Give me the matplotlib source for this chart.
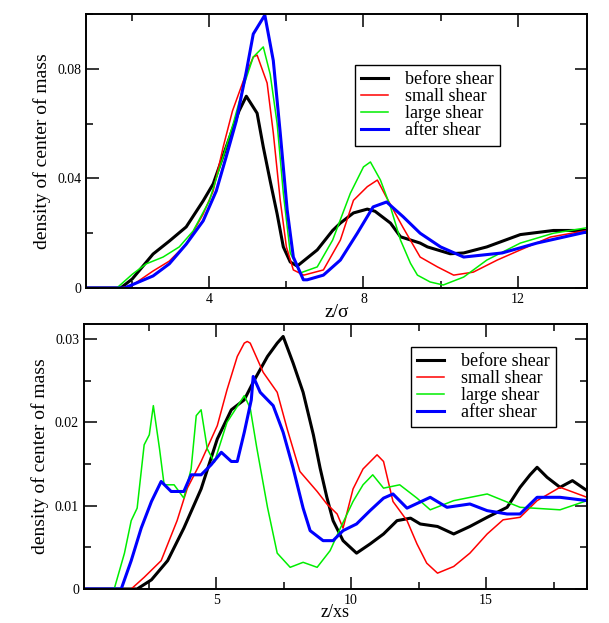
import matplotlib
matplotlib.use("Agg")
import matplotlib.pyplot as plt
from matplotlib.ticker import MultipleLocator

plt.rcParams['font.family'] = ['Liberation Serif', 'DejaVu Serif']

labels = ["before shear", "small shear", "large shear", "after shear"]
colours = ["black", "red", "#00ee00", "blue"]
widths = [2.2, 1.1, 1.1, 2.2]

# ---- top panel: z / sigma ----
z_top_before = [0.8, 1.7, 2.0, 2.54, 2.96, 3.4, 3.84, 4.1, 4.44, 4.77, 4.96, 5.24, 5.4, 5.58, 5.76,
                5.92, 6.1, 6.28, 6.8, 7.2, 7.4, 7.74, 8.1, 8.3, 8.7, 8.96, 9.47, 9.66, 10.25, 10.6,
                11.2, 12.07, 12.93, 13.8]
d_top_before = [0, 0, 0.0033, 0.0124, 0.0171, 0.0223, 0.0318, 0.038, 0.0515, 0.0646, 0.070, 0.0638,
                0.0515, 0.039, 0.027, 0.015, 0.0095, 0.008, 0.0139, 0.021, 0.0237, 0.0274, 0.0288,
                0.028, 0.0237, 0.0187, 0.0164, 0.015, 0.0125, 0.0128, 0.015, 0.0195, 0.021, 0.021]

z_top_small = [0.8, 1.7, 2.0, 2.54, 2.96, 3.4, 3.84, 4.1, 4.36, 4.6, 4.88, 5.14, 5.24, 5.5, 5.66, 5.84,
               6.0, 6.18, 6.45, 6.96, 7.4, 7.74, 8.1, 8.36, 8.6, 9.03, 9.47, 9.92, 10.34, 10.85,
               11.47, 12.07, 12.85, 13.8]
d_top_small = [0, 0, 0.001, 0.0062, 0.0098, 0.016, 0.027, 0.0354, 0.0515, 0.0646, 0.0755, 0.0843,
               0.085, 0.0748, 0.0566, 0.032, 0.015, 0.0066, 0.0047, 0.0066, 0.0175, 0.032, 0.037,
               0.0394, 0.033, 0.022, 0.0113, 0.0077, 0.0047, 0.0058, 0.0102, 0.0139, 0.0186, 0.021]

z_top_large = [0.8, 1.6, 2.0, 2.36, 2.8, 3.22, 3.58, 4.0, 4.36, 4.62, 4.88, 5.14, 5.4, 5.58, 5.76,
               5.92, 6.1, 6.36, 6.8, 7.2, 7.66, 8.0, 8.18, 8.44, 8.7, 8.96, 9.22, 9.4, 9.73, 10.07,
               10.6, 11.2, 12.07, 12.93, 13.8]
d_top_large = [0, 0, 0.005, 0.0088, 0.0113, 0.015, 0.0208, 0.0318, 0.048, 0.060, 0.0733, 0.0843,
               0.088, 0.078, 0.060, 0.0346, 0.0128, 0.0055, 0.0077, 0.0175, 0.0346, 0.0442, 0.046,
               0.0394, 0.0296, 0.0175, 0.009, 0.0047, 0.0022, 0.0011, 0.004, 0.0102, 0.0164, 0.020,
               0.022]

z_top_after = [0.8, 1.8, 2.54, 2.96, 3.4, 3.84, 4.18, 4.44, 4.7, 4.96, 5.14, 5.44, 5.66, 5.84, 6.02,
               6.18, 6.44, 6.54, 6.96, 7.4, 7.84, 8.25, 8.6, 9.03, 9.47, 10.0, 10.6, 11.6, 12.5,
               13.8]
d_top_after = [0, 0, 0.0044, 0.0088, 0.016, 0.0245, 0.0354, 0.048, 0.061, 0.079, 0.0927, 0.0996,
               0.083, 0.0566, 0.0285, 0.0113, 0.003, 0.003, 0.0047, 0.0102, 0.020, 0.0296, 0.0314,
               0.026, 0.020, 0.015, 0.0113, 0.0128, 0.0164, 0.0205]

# ---- bottom panel: z / xs ----
z_bot_before = [0.1, 2.07, 2.6, 3.2, 3.8, 4.44, 5.04, 5.56, 6.04, 6.4, 6.9, 7.26, 7.48, 7.85, 8.22,
                8.6, 8.85, 9.1, 9.33, 9.7, 10.2, 10.7, 11.2, 11.7, 12.2, 12.56, 13.2, 13.8, 14.4,
                15.04, 15.78, 16.26, 16.63, 16.89, 17.26, 17.74, 18.2, 18.74]
d_bot_before = [0, 0, 0.0011, 0.0034, 0.0073, 0.012, 0.018, 0.0215, 0.0227, 0.025, 0.0279, 0.0295,
                0.0303, 0.0271, 0.0236, 0.0185, 0.0145, 0.011, 0.0082, 0.0058, 0.0043, 0.0054,
                0.0066, 0.0082, 0.0085, 0.0078, 0.0075, 0.0066, 0.0075, 0.0086, 0.0098, 0.0122,
                0.0137, 0.0146, 0.0134, 0.0122, 0.013, 0.0118]

z_bot_small = [0.1, 1.85, 2.33, 2.96, 3.55, 3.93, 4.44, 5.04, 5.4, 5.78, 6.04, 6.15, 6.26, 6.74, 7.26,
               7.63, 8.1, 8.74, 9.1, 9.48, 9.7, 10.07, 10.44, 10.96, 11.2, 11.55, 12.07, 12.44,
               12.8, 13.2, 13.8, 14.4, 15.04, 15.63, 16.26, 16.89, 17.74, 18.74]
d_bot_small = [0, 0, 0.0014, 0.0034, 0.0082, 0.0121, 0.0153, 0.0196, 0.0239, 0.0279, 0.0295, 0.0297,
               0.0295, 0.026, 0.0236, 0.0192, 0.0141, 0.0117, 0.0102, 0.009, 0.0073, 0.012, 0.0144,
               0.0161, 0.0153, 0.0105, 0.0082, 0.0054, 0.0031, 0.0019, 0.0027, 0.0043, 0.0066,
               0.0083, 0.0086, 0.0106, 0.0122, 0.011]

z_bot_large = [0.1, 1.22, 1.6, 1.85, 2.07, 2.33, 2.52, 2.67, 2.9, 3.07, 3.44, 3.8, 4.07, 4.26, 4.44,
               4.67, 4.93, 5.4, 6.04, 6.26, 6.5, 6.9, 7.26, 7.74, 8.22, 8.74, 9.22, 9.6, 10.07,
               10.44, 10.8, 11.2, 11.8, 12.44, 12.93, 13.8, 15.04, 16.26, 17.74, 18.74]
d_bot_large = [0, 0, 0.0043, 0.0082, 0.0097, 0.0173, 0.0185, 0.022, 0.0168, 0.0125, 0.0125, 0.0109,
               0.0144, 0.0208, 0.0215, 0.0168, 0.0152, 0.020, 0.0232, 0.0217, 0.017, 0.0098,
               0.0043, 0.0026, 0.0032, 0.0026, 0.0046, 0.0073, 0.0105, 0.0125, 0.0137, 0.0121,
               0.0125, 0.0109, 0.0095, 0.0106, 0.0114, 0.0098, 0.0095, 0.0106]

z_bot_after = [0.1, 1.48, 1.85, 2.22, 2.6, 2.96, 3.33, 3.8, 4.07, 4.44, 4.81, 5.19, 5.56, 5.78, 6.04,
               6.3, 6.37, 6.63, 7.11, 7.48, 7.85, 8.22, 8.48, 8.96, 9.33, 9.7, 10.2, 10.7, 11.2,
               11.55, 12.07, 12.93, 13.55, 14.4, 15.04, 15.78, 16.26, 16.89, 17.74, 18.74]
d_bot_after = [0, 0, 0.0034, 0.0073, 0.0105, 0.0129, 0.0117, 0.0117, 0.0137, 0.0137, 0.0149, 0.0164,
               0.0153, 0.0153, 0.0188, 0.0227, 0.0255, 0.0236, 0.022, 0.0188, 0.0145, 0.0097,
               0.007, 0.0058, 0.0058, 0.007, 0.0078, 0.0094, 0.0109, 0.0114, 0.0097, 0.011,
               0.0098, 0.0102, 0.0094, 0.009, 0.009, 0.011, 0.011, 0.0106]

top_series = [(z_top_before, d_top_before), (z_top_small, d_top_small),
              (z_top_large, d_top_large), (z_top_after, d_top_after)]
bot_series = [(z_bot_before, d_bot_before), (z_bot_small, d_bot_small),
              (z_bot_large, d_bot_large), (z_bot_after, d_bot_after)]

fig = plt.figure(figsize=(6.09, 6.23), dpi=100)
ax1 = fig.add_axes([0.1412, 0.5377, 0.8227, 0.4398])
ax2 = fig.add_axes([0.1379, 0.0546, 0.8260, 0.4254])


def style(ax):
    for s in ax.spines.values():
        s.set_linewidth(1.4)
    ax.tick_params(which='both', direction='in', top=True, right=True, labelsize=10, width=1.1)
    ax.tick_params(which='major', length=9)
    ax.tick_params(which='minor', length=5)
    ax.yaxis.set_major_formatter(plt.FuncFormatter(lambda v, p: "0" if v == 0 else f"{v:g}"))
    ax.xaxis.set_major_formatter(plt.FuncFormatter(lambda v, p: f"{v:g}"))


def add_legend(ax, anchor):
    ax.legend(loc='upper left', bbox_to_anchor=anchor, borderaxespad=0, fontsize=13,
              fancybox=False, framealpha=1, edgecolor='black', handlelength=1.5,
              handletextpad=0.9, labelspacing=0.0, borderpad=0.35)


for ax, series in [(ax1, top_series), (ax2, bot_series)]:
    for (z, d), c, lw, lab in zip(series, colours, widths, labels):
        ax.plot(z, d, color=c, lw=lw, label=lab)
    style(ax)

ax1.set_xlim(0.8, 13.8)
ax1.set_ylim(0, 0.1)
ax1.xaxis.set_major_locator(MultipleLocator(4))
ax1.xaxis.set_minor_locator(MultipleLocator(2))
ax1.yaxis.set_major_locator(MultipleLocator(0.04))
ax1.yaxis.set_minor_locator(MultipleLocator(0.02))
ax1.set_xlabel("z/σ", fontsize=14, labelpad=-1)
ax1.set_ylabel("density of center of mass", fontsize=14, labelpad=4)
add_legend(ax1, (0.537, 0.814))

ax2.set_xlim(0.1, 18.74)
ax2.set_ylim(0, 0.0318)
ax2.xaxis.set_major_locator(MultipleLocator(5))
ax2.xaxis.set_minor_locator(MultipleLocator(2.5))
ax2.yaxis.set_major_locator(MultipleLocator(0.01))
ax2.yaxis.set_minor_locator(MultipleLocator(0.005))
ax2.set_xlabel("z/xs", fontsize=13, labelpad=-2)
ax2.set_ylabel("density of center of mass", fontsize=14, labelpad=4)
add_legend(ax2, (0.65, 0.9145))

fig.savefig("out.png", dpi=100)
